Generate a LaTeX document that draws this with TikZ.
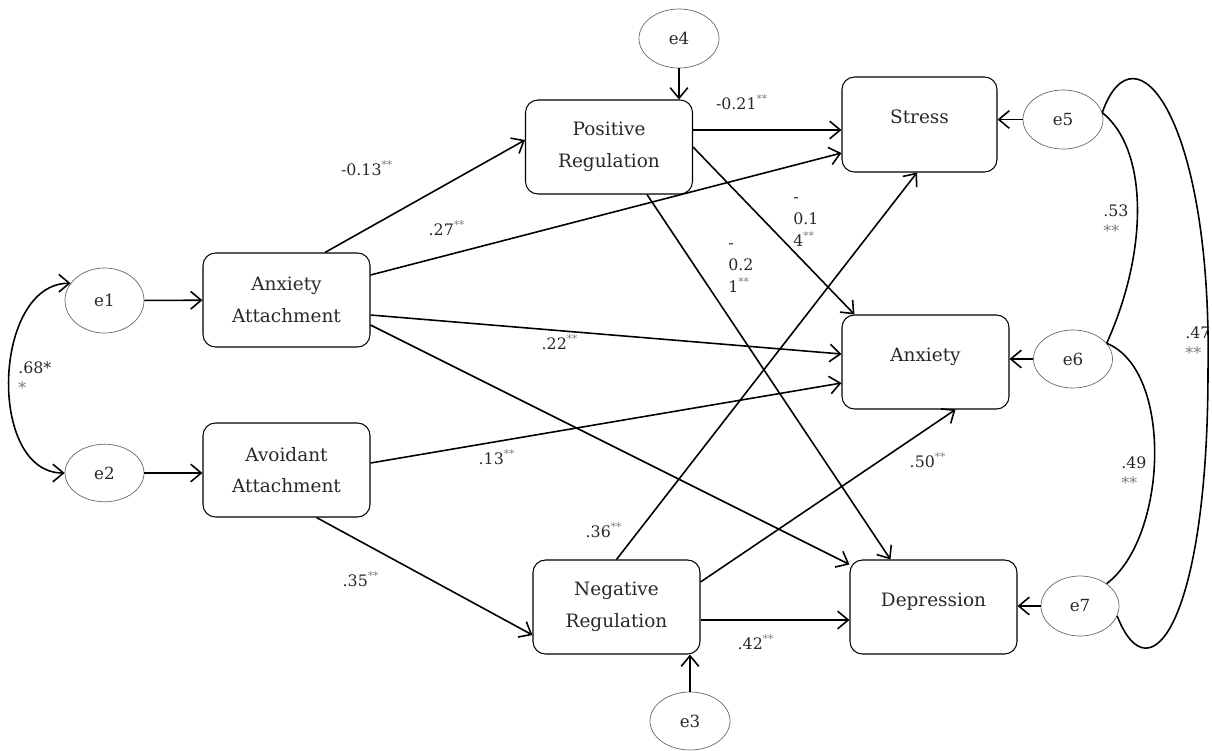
\documentclass[tikz,border=0pt]{standalone}
\usepackage{fontspec}
\setmainfont{DejaVu Serif}
\usepackage{xcolor}
\definecolor{semtext}{RGB}{40, 40, 40}
\definecolor{semstar}{RGB}{125, 125, 125}
\definecolor{semedge}{RGB}{105, 105, 105}
\usetikzlibrary{arrows.meta, positioning, shapes.geometric}
\newcommand{\sigstar}{\textsuperscript{\textcolor{semstar}{**}}}

\begin{document}
\begin{tikzpicture}[
    >={Straight Barb[length=6pt, width=10pt]},
    varbox/.style={rectangle, draw, rounded corners=0.25cm, line width=0.6pt, minimum width=3.34cm, minimum height=1.88cm, align=center, text=semtext, font=\fontsize{10.5}{18}\selectfont},
    onebox/.style={varbox, text height=7pt, text depth=8pt},
    err/.style={ellipse, draw=semedge, line width=0.4pt, minimum width=1.6cm, minimum height=1.18cm, inner sep=0pt, text=semtext, font=\fontsize{9.5}{11}\selectfont},
    arrow/.style={->, line width=0.9pt},
    cov/.style={line width=0.9pt},
    coef/.style={inner sep=0pt, align=left, text=semtext, font=\fontsize{9}{11.5}\selectfont},
    tallcoef/.style={coef, font=\fontsize{9}{12.5}\selectfont}
]
\useasboundingbox (0,0) rectangle (24.24,-15);

% === Variables ===
\node[varbox] (anxatt) at (5.73, -6.00) {Anxiety\\Attachment};
\node[varbox] (avoatt) at (5.73, -9.40) {Avoidant\\Attachment};
\node[varbox] (posreg) at (12.18, -2.94) {Positive\\Regulation};
\node[varbox] (negreg) at (12.33, -12.14) {Negative\\Regulation};
\node[onebox, minimum width=3.10cm, minimum height=1.90cm] (stress) at (18.39, -2.49) {Stress};
\node[onebox] (anxiety) at (18.51, -7.24) {Anxiety};
\node[onebox] (depression) at (18.67, -12.14) {Depression};

% === Errores ===
\node[err, minimum width=1.58cm, minimum height=1.30cm] (e1) at (2.09, -6.01) {e1};
\node[err, minimum width=1.58cm, minimum height=1.15cm] (e2) at (2.09, -9.46) {e2};
\node[err, minimum height=1.16cm] (e3) at (13.80, -14.42) {e3};
\node[err] (e4) at (13.58, -0.77) {e4};
\node[err] (e5) at (21.26, -2.39) {e5};
\node[err, minimum width=1.58cm, minimum height=1.16cm] (e6) at (21.46, -7.18) {e6};
\node[err, minimum width=1.56cm, minimum height=1.20cm] (e7) at (21.60, -12.12) {e7};

% === Flechas de error ===
\draw[arrow] (e1) -- (anxatt);
\draw[arrow] (e2.east) -- (e2.east -| avoatt.west);
\draw[arrow] (e4.south) -- (e4.south |- posreg.north);
\draw[arrow] (e3.north) -- (e3.north |- negreg.south);
\draw[arrow] (e5.west) -- (e5.west -| stress.east);
\draw[arrow] (e6.west) -- (e6.west -| anxiety.east);
\draw[arrow] (e7.west) -- (e7.west -| depression.east);

% === Apego -> regulacion / resultados ===
\draw[arrow] ([xshift=0.77cm]anxatt.north) -- ([yshift=0.14cm]posreg.west);
\draw[arrow] ([yshift=0.5cm]anxatt.east) -- ([yshift=-0.57cm]stress.west);
\draw[arrow] ([yshift=-0.3cm]anxatt.east) -- ([yshift=0.16cm]anxiety.west);
\draw[arrow] ([yshift=-0.5cm]anxatt.east) -- ([yshift=-0.1cm]depression.north west);
\draw[arrow] ([yshift=0.14cm]avoatt.east) -- ([yshift=-0.42cm]anxiety.west);
\draw[arrow] ([xshift=0.6cm]avoatt.south) -- ([yshift=-0.56cm]negreg.west);

% === Regulacion -> resultados ===
\draw[arrow] ([yshift=0.34cm]posreg.east) -- ([yshift=0.34cm]posreg.east -| stress.west);
\draw[arrow] (posreg.east) -- ([xshift=0.26cm]anxiety.north west);
\draw[arrow] ([xshift=0.76cm]posreg.south) -- ([xshift=-0.86cm]depression.north);
\draw[arrow] (negreg.north) -- ([xshift=-0.05cm]stress.south);
\draw[arrow] ([yshift=0.5cm]negreg.east) -- ([xshift=0.6cm]anxiety.south);
\draw[arrow] ([yshift=-0.26cm]negreg.east) -- ([yshift=-0.26cm]negreg.east -| depression.west);

% === Covarianzas ===
\draw[cov, <->] (e1.153) .. controls +(-1.56,0) and +(-1.56,0) .. (e2.west);
\draw[cov] (e5.10) .. controls +(0.92,-0.74) and +(0.84,1.86) .. (e6.25);
\draw[cov] (e6.25) .. controls +(1.34,-0.54) and +(1.22,0.92) .. (e7.40);
\draw[cov] (e5.10) .. controls (22.70,-0.40) and (24.24,-2.40) .. (24.16,-7.40)
    .. controls (24.16,-12.40) and (23.00,-14.00) .. (e7.-15);

% === Coeficientes ===
\node[coef, anchor=west] (c68) at (0.36, -7.56) {.68*\\\textcolor{semstar}{*}};
\node[coef] (c13a) at (7.34, -3.36) {-0.13\sigstar};
\node[coef] (c27) at (8.94, -4.56) {.27\sigstar};
\node[coef] (c22) at (11.20, -6.84) {.22\sigstar};
\node[coef] (c21a) at (14.84, -2.04) {-0.21\sigstar};
\node[tallcoef, anchor=west] (c14) at (15.86, -4.44) {-\\0.1\\4\sigstar};
\node[tallcoef, anchor=west] (c21b) at (14.56, -5.36) {-\\0.2\\1\sigstar};
\node[coef] (c13b) at (9.94, -9.14) {.13\sigstar};
\node[coef] (c36) at (12.08, -10.60) {.36\sigstar};
\node[coef] (c35) at (7.22, -11.58) {.35\sigstar};
\node[coef] (c42) at (15.12, -12.84) {.42\sigstar};
\node[coef] (c50) at (18.56, -9.20) {.50\sigstar};
\node[coef, anchor=west] (c53) at (22.06, -4.42) {.53\\\textcolor{semstar}{**}};
\node[coef, anchor=west] (c47) at (23.70, -6.86) {.47\\\textcolor{semstar}{**}};
\node[coef, anchor=west] (c49) at (22.42, -9.46) {.49\\\textcolor{semstar}{**}};

\end{tikzpicture}
\end{document}
